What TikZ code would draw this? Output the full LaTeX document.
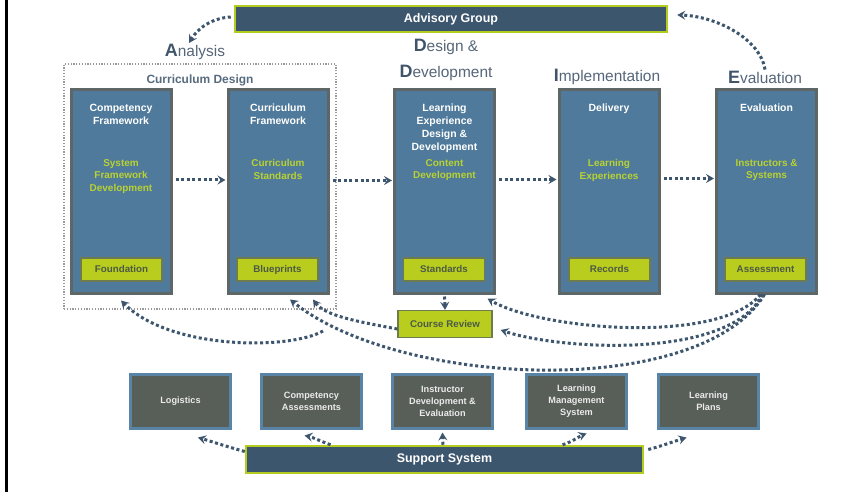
\documentclass[tikz,border=0pt]{standalone}
\usepackage{fontspec}
\setmainfont{Liberation Sans}
\usetikzlibrary{arrows.meta}
\definecolor{slate}{HTML}{3C566E}
\definecolor{lime}{HTML}{B4CC1E}
\definecolor{steel}{HTML}{4F7A9B}
\definecolor{boxedge}{HTML}{5E6668}
\definecolor{subgreen}{HTML}{B9D232}
\definecolor{labfill}{HTML}{B8CD1E}
\definecolor{labedge}{HTML}{6E7A50}
\definecolor{labtext}{HTML}{4D5A45}
\definecolor{supfill}{HTML}{585E58}
\definecolor{supedge}{HTML}{5A84A6}
\definecolor{phase}{HTML}{56667A}
\definecolor{phasefirst}{HTML}{40546A}
\definecolor{cdtitle}{HTML}{566B7E}
\definecolor{arrowc}{HTML}{3D566E}
\newcommand\phL[1]{{\fontsize{18}{20}\selectfont\bfseries\color{phasefirst}#1}}
\begin{document}
\begin{tikzpicture}[x=1bp,y=-1bp,
 banner/.style={draw=lime, line width=2.5bp, fill=slate, text=white, font=\fontsize{12.5}{15}\selectfont\bfseries, inner sep=0},
 bigbox/.style={draw=boxedge, line width=3bp, fill=steel, minimum width=100bp, minimum height=203bp, inner sep=0},
 boxtitle/.style={text=white, font=\fontsize{10.5}{13}\selectfont\bfseries, align=center, anchor=north, inner sep=0},
 boxsub/.style={text=subgreen, font=\fontsize{10}{12.7}\selectfont\bfseries, align=center, anchor=north, inner sep=0},
 labbox/.style={draw=labedge, line width=1.2bp, fill=labfill, text=labtext, font=\fontsize{9.8}{12}\selectfont\bfseries, minimum width=81bp, minimum height=23bp, inner sep=0},
 supbox/.style={draw=supedge, line width=3bp, fill=supfill, text=white!92!black, font=\fontsize{9.2}{12}\selectfont\bfseries, align=center, minimum width=100bp, minimum height=54bp, inner sep=0},
 phaselab/.style={text=phase, font=\fontsize{15.5}{25.5}\selectfont, align=center, inner sep=0},
 dotarrow/.style={draw=arrowc, line width=3bp, dash pattern=on 3bp off 2.6bp, -{Stealth[length=8bp,width=9bp,inset=3bp]}},
]
\useasboundingbox (0,0) rectangle (861,492);
\fill[white] (0,0) rectangle (861,492);
\draw[line width=2.5bp] (6.5,0) -- (6.5,492);

% curriculum design frame
\node[draw=gray!80, line width=1.2bp, dash pattern=on 1.2bp off 1.6bp, minimum width=272bp, minimum height=245bp, inner sep=0] (cd) at (200,186.5) {};
\node[font=\fontsize{12}{14}\selectfont\bfseries, text=cdtitle, inner sep=0] (cdt) at (200,80) {Curriculum Design};

% banners
\node[banner, minimum width=432bp, minimum height=26bp] (adv) at (451,19) {Advisory Group};
\node[banner, minimum width=397bp, minimum height=27bp] (ss) at (444.5,459.5) {Support System};

% phase labels
\node[phaselab] (pA) at (195,52) {\phL{A}nalysis};
\node[phaselab] (pD) at (446,60) {\phL{D}esign \&\\\phL{D}evelopment};
\node[phaselab] (pI) at (607,77) {\phL{I}mplementation};
\node[phaselab] (pE) at (765,77) {\phL{E}valuation};

% big boxes
\node[bigbox] (b1) at (121,191.5) {};
\node[bigbox] (b2) at (278,191.5) {};
\node[bigbox] (b3) at (444.5,191.5) {};
\node[bigbox] (b4) at (609,191.5) {};
\node[bigbox] (b5) at (766.5,191.5) {};

\node[boxtitle] (t1) at (121,104) {Competency\\Framework};
\node[boxtitle] (t2) at (278,104) {Curriculum\\Framework};
\node[boxtitle] (t3) at (444.5,104) {Learning\\Experience\\Design \&\\Development};
\node[boxtitle] (t4) at (609,104) {Delivery};
\node[boxtitle] (t5) at (766.5,104) {Evaluation};

\node[boxsub] (g1) at (121,159) {System\\Framework\\Development};
\node[boxsub] (g2) at (278,159) {Curriculum\\Standards};
\node[boxsub] (g3) at (444.5,159) {Content\\Development};
\node[boxsub] (g4) at (609,159) {Learning\\Experiences};
\node[boxsub] (g5) at (766.5,159) {Instructors \&\\Systems};

\node[labbox] (l1) at (121.5,269.5) {Foundation};
\node[labbox] (l2) at (277.5,269.5) {Blueprints};
\node[labbox] (l3) at (444,269.5) {Standards};
\node[labbox] (l4) at (609.5,269.5) {Records};
\node[labbox] (l5) at (765.5,269.5) {Assessment};

\node[labbox, minimum width=94bp, minimum height=27bp] (cr) at (445,324) {Course Review};

% support boxes
\node[supbox] (s1) at (180.5,401) {Logistics};
\node[supbox] (s2) at (311.5,401) {Competency\\Assessments};
\node[supbox] (s3) at (442.5,401) {Instructor\\Development \&\\Evaluation};
\node[supbox] (s4) at (576.5,401) {Learning\\Management\\System};
\node[supbox] (s5) at (708.5,401) {Learning\\Plans};

% top arrows
\coordinate (tA) at (189,43);
\draw[dotarrow] ([xshift=-3bp,yshift=2bp]adv.west) .. controls (212,18) and (198,28) .. (tA);
\draw[dotarrow] ([yshift=1bp]pE.north) .. controls (760,38) and (715,16) .. ([xshift=9bp,yshift=4bp]adv.east);

% horizontal arrows
\draw[dotarrow, shorten <=3bp, shorten >=1bp] ([yshift=11.5bp]b1.east) -- ([yshift=11.5bp]b2.west);
\draw[dotarrow, shorten <=3bp, shorten >=1bp] ([yshift=11bp]b2.east) -- ([yshift=11bp]b3.west);
\draw[dotarrow, shorten <=3bp, shorten >=1bp] ([yshift=12bp]b3.east) -- ([yshift=12bp]b4.west);
\draw[dotarrow, shorten <=3bp, shorten >=1bp] ([yshift=13bp]b4.east) -- ([yshift=13bp]b5.west);

% review arrow
\draw[dotarrow, shorten <=2bp] (b3.south) -- (cr.north);

% feedback curves
\coordinate (aS) at (323,331);
\draw[dotarrow] (aS) .. controls (290,350) and (170,350) .. ([yshift=-6bp]b1.south);
\draw[dotarrow] ([yshift=-5bp]cr.west) .. controls (360,322) and (325,316) .. ([xshift=35bp,yshift=-5bp]b2.south);
\draw[dotarrow] ([xshift=-6bp]b5.south) .. controls (720,345) and (540,330) .. ([xshift=43bp,yshift=-4bp]b3.south);
\draw[dotarrow] ([xshift=-4bp]b5.south) .. controls (730,360) and (560,350) .. ([xshift=8bp,yshift=-6bp]cr.east);
\draw[dotarrow] ([xshift=-2bp]b5.south) .. controls (700,400) and (400,388) .. ([xshift=12bp,yshift=-5bp]b2.south);

% support arrows
\draw[dotarrow] ([yshift=8bp]ss.west) .. controls (228,447) and (210,441) .. ([xshift=17.5bp,yshift=-8bp]s1.south);
\draw[dotarrow] ([xshift=-114bp]ss.north) .. controls (320,441) and (312,437) .. ([xshift=-7bp,yshift=-6bp]s2.south);
\draw[dotarrow] ([xshift=-1.5bp]ss.north) -- ([yshift=-3bp]s3.south);
\draw[dotarrow] ([xshift=118bp]ss.north) .. controls (572,442) and (580,436) .. ([xshift=10bp,yshift=-4bp]s4.south);
\draw[dotarrow] ([xshift=4bp,yshift=10bp]ss.east) .. controls (662,446) and (675,441) .. ([xshift=-22bp,yshift=-8bp]s5.south);
\end{tikzpicture}
\end{document}
